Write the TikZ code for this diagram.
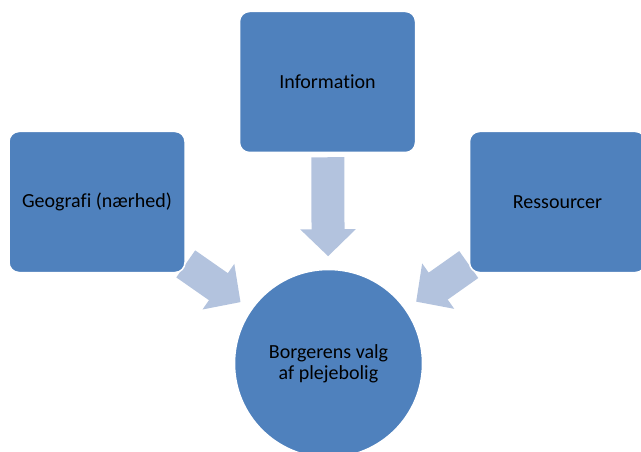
\documentclass[tikz,border=0pt]{standalone}
\usepackage{fontspec}
\setmainfont{Carlito}[Ligatures=NoCommon]
\usetikzlibrary{arrows.meta,backgrounds}
\definecolor{boxblue}{RGB}{79,129,189}
\definecolor{arrowblue}{RGB}{179,195,222}

\begin{document}
\begin{tikzpicture}[x=1pt,y=-1pt,
		font=\fontsize{20}{21}\selectfont,
		factor/.style={draw=white,line width=1.5pt,fill=boxblue,rounded corners=10pt,
			minimum width=176pt,minimum height=141pt,inner sep=0pt},
		choice/.style={circle,draw=white,line width=1.5pt,fill=boxblue,
			minimum size=188pt,inner sep=0pt,align=center},
		flow/.style={arrowblue,line width=33pt,
			-{Triangle[width=54pt,length=27pt]},shorten >=12.5pt},
	]
		\useasboundingbox (0,0) rectangle (641,452);

		\node[factor] (info) at (327.5,82) {Information};
		\node[factor] (geo) at (97,202) {Geografi (nærhed)};
		\node[factor] (res) at (557.5,202) {Ressourcer};
		\node[choice] (valg) at (328.5,363.5) {Borgerens valg\\af plejebolig};

		% arrows behind the boxes
		\begin{pgfonlayer}{background}
		\path[flow]
			(info) edge[shorten <=4pt] (valg)
			(geo)  edge (valg)
			(res)  edge (valg)
		;
		\end{pgfonlayer}
	\end{tikzpicture}
\end{document}
